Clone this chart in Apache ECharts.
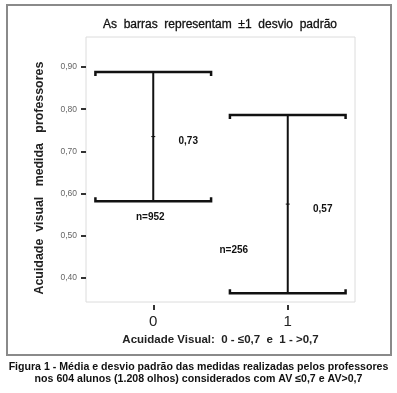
<!DOCTYPE html>
<html><head><meta charset="utf-8">
<script src="https://cdn.jsdelivr.net/npm/echarts@6/dist/echarts.min.js"></script>
<style>html,body{margin:0;padding:0;background:#fff}#c{width:397px;height:393px}</style>
</head><body><div id="c"></div>
<script>
const categories = ['0', '1'];
const means = [0.735, 0.575];
const sds = [0.153, 0.211];
const meanLabels = ['0,73', '0,57'];
const nLabels = ['n=952', 'n=256'];
const yTicks = [0.4, 0.5, 0.6, 0.7, 0.8, 0.9];

const chart = echarts.init(document.getElementById('c'));
const F = 'Liberation Sans, Arial, sans-serif';

chart.setOption({
  animation: false,
  backgroundColor: '#fff',
  title: {
    text: 'As  barras  representam  ±1  desvio  padrão',
    left: 215, top: 14, textAlign: 'center',
    textStyle: { fontFamily: F, fontSize: 12, fontWeight: 'normal', color: '#111', textBorderColor: '#111', textBorderWidth: 0.3 }
  },
  grid: { left: 86, right: 42, top: 37, bottom: 91, show: true, borderColor: '#dcdcdc', borderWidth: 1, backgroundColor: '#fff' },
  xAxis: {
    type: 'category', data: categories, offset: 3,
    axisLine: { show: false },
    axisTick: { show: true, alignWithLabel: true, length: 5, lineStyle: { color: '#333', width: 2 } },
    axisLabel: { margin: 9, fontFamily: F, fontSize: 15, color: '#222' },
    name: 'Acuidade Visual:  0 - ≤0,7  e  1 - >0,7', nameLocation: 'middle', nameGap: 28,
    nameTextStyle: { fontFamily: F, fontSize: 11.5, color: '#222', fontWeight: 'bold' }
  },
  yAxis: {
    type: 'value', min: 0.343, max: 0.971,
    axisLine: { show: false },
    splitLine: { show: false },
    axisTick: { show: true, length: 5, customValues: yTicks, lineStyle: { color: '#333', width: 2 } },
    axisLabel: { margin: 9, customValues: yTicks, fontFamily: F, fontSize: 8.5, color: '#666',
      formatter: v => v.toFixed(2).replace('.', ',') },
    name: 'Acuidade  visual   medida   professores\u00a0\u00a0\u00a0\u00a0\u00a0', nameLocation: 'middle', nameGap: 40,
    nameTextStyle: { fontFamily: F, fontSize: 12.4, color: '#222', fontWeight: 'bold' }
  },
  graphic: [
    { type: 'rect', shape: { x: 7, y: 5, width: 384, height: 350 }, style: { fill: 'none', stroke: '#8a8a8a', lineWidth: 2 }, z: -1 },
    { type: 'text', left: 'center', top: 362, style: { text: 'Figura 1 - Média e desvio padrão das medidas realizadas pelos professores', font: 'bold 10.6px Liberation Sans, Arial, sans-serif', fill: '#111' } },
    { type: 'text', left: 'center', top: 374, style: { text: 'nos 604 alunos (1.208 olhos) considerados com AV ≤0,7 e AV>0,7', font: 'bold 10.6px Liberation Sans, Arial, sans-serif', fill: '#111' } }
  ],
  series: [{
    type: 'custom',
    data: categories.map((c, i) => [i, means[i], sds[i]]),
    renderItem: function (params, api) {
      const i = api.value(0), m = api.value(1), s = api.value(2);
      const top = api.coord([i, m + s]);
      const bot = api.coord([i, m - s]);
      const mid = api.coord([i, m]);
      const hw = api.size([1, 0])[0] * 0.43;
      const x = top[0];
      const ls = { stroke: '#111', lineWidth: 2.5, fill: 'none' };
      const ch = [
        { type: 'line', shape: { x1: x, y1: top[1], x2: x, y2: bot[1] }, style: { stroke: '#111', lineWidth: 2 } },
        { type: 'polyline', shape: { points: [[x - hw, top[1] + 4], [x - hw, top[1]], [x + hw, top[1]], [x + hw, top[1] + 4]] }, style: ls },
        { type: 'polyline', shape: { points: [[x - hw, bot[1] - 4], [x - hw, bot[1]], [x + hw, bot[1]], [x + hw, bot[1] - 4]] }, style: ls },
        { type: 'line', shape: { x1: x - 2, y1: mid[1], x2: x + 2, y2: mid[1] }, style: { stroke: '#111', lineWidth: 1 } },
        { type: 'text', style: { text: meanLabels[i], x: x + 35, y: mid[1] + 5, align: 'center', verticalAlign: 'middle', font: 'bold 10px ' + F, fill: '#111' } }
      ];
      if (i === 0) {
        ch.push({ type: 'text', style: { text: nLabels[i], x: x - 3, y: bot[1] + 16, align: 'center', verticalAlign: 'middle', font: 'bold 10px ' + F, fill: '#111' } });
      } else {
        ch.push({ type: 'text', style: { text: nLabels[i], x: x - 54, y: bot[1] - 43, align: 'center', verticalAlign: 'middle', font: 'bold 10px ' + F, fill: '#111' } });
      }
      return { type: 'group', children: ch };
    }
  }]
});
</script></body></html>
